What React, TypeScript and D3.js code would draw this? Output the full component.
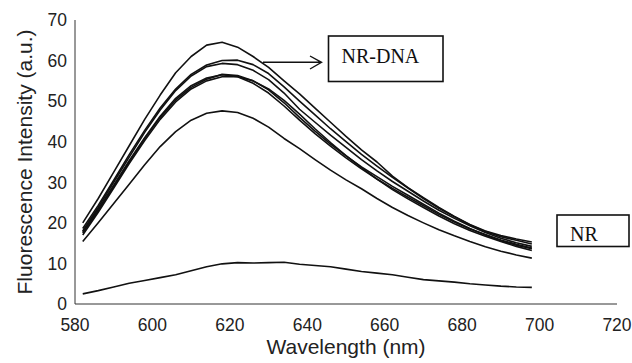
import React, { useEffect, useRef } from 'react';
import * as d3 from 'd3';

// wavelength grid (nm)
const wavelengths = [
  582, 586, 590, 594, 598, 602, 606, 610, 614, 618, 622, 626, 630, 634, 638,
  642, 646, 650, 654, 658, 662, 666, 670, 674, 678, 682, 686, 690, 694, 698,
];

// NR-DNA spectra (a.u.)
const nrDnaA = [
  20.0, 26.0, 32.5, 39.0, 45.5, 51.5, 57.0, 61.0, 63.8, 64.5, 63.3, 61.0, 58.3, 55.0, 51.8,
  48.3, 44.8, 41.3, 38.0, 35.0, 31.5, 28.7, 26.2, 23.8, 21.6, 19.6, 18.0, 16.9, 16.0, 15.3,
];
const nrDnaB = [
  18.6, 24.3, 30.5, 36.8, 42.8, 48.3, 53.0, 56.6, 58.9, 60.0, 60.1, 59.0, 56.8, 53.5, 50.0,
  46.6, 43.2, 40.0, 36.9, 34.0, 31.2, 28.6, 26.0, 23.6, 21.5, 19.5, 17.9, 16.6, 15.7, 14.8,
];
const nrDnaC = [
  18.0, 23.8, 30.0, 36.2, 42.3, 47.8, 52.6, 56.2, 58.5, 59.3, 59.0, 57.6, 55.3, 52.0, 48.0,
  44.8, 41.6, 38.6, 35.6, 32.8, 30.2, 27.8, 25.4, 23.1, 21.1, 19.3, 17.6, 16.2, 15.1, 14.2,
];
const nrDnaD = [
  17.5, 23.0, 29.0, 35.0, 40.8, 46.0, 50.3, 53.4, 55.4, 56.6, 56.3, 55.0, 52.8, 49.6, 46.0,
  42.6, 39.4, 36.5, 33.8, 31.4, 29.0, 26.8, 24.6, 22.4, 20.4, 18.6, 17.0, 15.6, 14.5, 13.6,
];
const nrDnaE = [
  17.0, 22.6, 28.6, 34.6, 40.3, 45.5, 49.8, 53.0, 55.0, 56.0, 56.0, 55.0, 53.0, 50.2, 46.8,
  43.2, 39.8, 36.6, 33.6, 30.8, 28.2, 25.9, 23.8, 21.7, 19.8, 18.1, 16.7, 15.4, 14.2, 13.2,
];
const nrDnaF = [
  17.8, 23.4, 29.3, 35.3, 41.0, 46.3, 50.7, 53.8, 55.7, 56.5, 56.0, 54.4, 52.0, 48.8, 45.3,
  42.0, 38.9, 36.0, 33.3, 30.8, 28.5, 26.3, 24.2, 22.1, 20.2, 18.5, 17.1, 15.8, 14.7, 13.8,
];
const nrDnaG = [
  15.4, 20.0, 24.8, 29.5, 34.3, 38.8, 42.5, 45.3, 47.0, 47.6, 47.2, 45.8, 43.6, 40.8, 38.3,
  35.6, 33.0, 30.6, 28.4, 26.0, 23.8, 21.8, 20.0, 18.3, 16.8, 15.4, 14.1, 13.0, 12.1, 11.3,
];

// free NR spectrum
const nrFree = [
  2.5, 3.3, 4.2, 5.1, 5.8, 6.5, 7.2, 8.2, 9.2, 9.9, 10.2, 10.1, 10.2, 10.3, 9.8,
  9.5, 9.2, 8.6, 8.0, 7.6, 7.2, 6.6, 6.0, 5.7, 5.4, 5.0, 4.7, 4.4, 4.2, 4.1,
];

const seriesList = [nrDnaA, nrDnaB, nrDnaC, nrDnaD, nrDnaE, nrDnaF, nrDnaG, nrFree];

const xTicks = [580, 600, 620, 640, 660, 680, 700, 720];
const yTicks = [0, 10, 20, 30, 40, 50, 60, 70];

const W = 632;
const H = 363;

const sans = '"Liberation Sans", Arial, Helvetica, sans-serif';
const serif = '"Liberation Serif", "Times New Roman", serif';

const App: React.FC = () => {
  const svgRef = useRef<SVGSVGElement>(null);

  useEffect(() => {
    if (!svgRef.current) return;
    const svg = d3.select(svgRef.current);
    svg.selectAll('*').remove();

    const x = d3.scaleLinear().domain([580, 720]).range([75, 617]);
    const y = d3.scaleLinear().domain([0, 70]).range([304, 20]);

    // axes lines
    svg
      .append('line')
      .attr('x1', x(580))
      .attr('x2', x(580))
      .attr('y1', y(70))
      .attr('y2', y(0))
      .attr('stroke', '#333')
      .attr('stroke-width', 1);
    svg
      .append('line')
      .attr('x1', x(580))
      .attr('x2', x(720))
      .attr('y1', y(0))
      .attr('y2', y(0))
      .attr('stroke', '#333')
      .attr('stroke-width', 1);

    // y tick labels
    svg
      .selectAll('.ytick')
      .data(yTicks)
      .enter()
      .append('text')
      .attr('class', 'ytick')
      .attr('x', 67)
      .attr('y', d => y(d))
      .attr('dy', '0.36em')
      .attr('text-anchor', 'end')
      .attr('font-family', sans)
      .attr('font-size', 17.5)
      .attr('fill', '#222')
      .text(d => d);

    // x tick labels
    svg
      .selectAll('.xtick')
      .data(xTicks)
      .enter()
      .append('text')
      .attr('class', 'xtick')
      .attr('x', d => x(d))
      .attr('y', 331)
      .attr('text-anchor', 'middle')
      .attr('font-family', sans)
      .attr('font-size', 17.5)
      .attr('fill', '#222')
      .text(d => d);

    // axis titles
    svg
      .append('text')
      .attr('x', (x(580) + x(720)) / 2)
      .attr('y', 354)
      .attr('text-anchor', 'middle')
      .attr('font-family', sans)
      .attr('font-size', 21)
      .attr('fill', '#222')
      .text('Wavelength (nm)');
    svg
      .append('text')
      .attr('transform', 'translate(32,162) rotate(-90)')
      .attr('text-anchor', 'middle')
      .attr('font-family', sans)
      .attr('font-size', 21)
      .attr('fill', '#222')
      .text('Fluorescence Intensity (a.u.)');

    // spectra
    const line = d3
      .line<number>()
      .x((d, i) => x(wavelengths[i]))
      .y(d => y(d));

    svg
      .selectAll('.spectrum')
      .data(seriesList)
      .enter()
      .append('path')
      .attr('class', 'spectrum')
      .attr('d', d => line(d))
      .attr('fill', 'none')
      .attr('stroke', '#111')
      .attr('stroke-width', 1.6)
      .attr('stroke-linejoin', 'round');

    // NR-DNA label with arrow
    svg
      .append('rect')
      .attr('x', 328.5)
      .attr('y', 36)
      .attr('width', 114.5)
      .attr('height', 45.5)
      .attr('fill', 'white')
      .attr('stroke', '#111')
      .attr('stroke-width', 1.6);
    svg
      .append('text')
      .attr('x', 341.5)
      .attr('y', 63)
      .attr('font-family', serif)
      .attr('font-size', 20)
      .attr('fill', '#111')
      .text('NR-DNA');
    svg
      .append('path')
      .attr('d', 'M263,62.3 L321.5,62.3 M310,56 L321.5,62.3 L310,69')
      .attr('fill', 'none')
      .attr('stroke', '#111')
      .attr('stroke-width', 1.4);

    // NR label
    svg
      .append('rect')
      .attr('x', 557)
      .attr('y', 215)
      .attr('width', 72)
      .attr('height', 31.5)
      .attr('fill', 'white')
      .attr('stroke', '#111')
      .attr('stroke-width', 1.6);
    svg
      .append('text')
      .attr('x', 570)
      .attr('y', 240.5)
      .attr('font-family', serif)
      .attr('font-size', 20)
      .attr('fill', '#111')
      .text('NR');
  }, []);

  return (
    <svg
      ref={svgRef}
      width={W}
      height={H}
      style={{ position: 'absolute', left: 0, top: 0, background: 'white' }}
    />
  );
};

export default App;
